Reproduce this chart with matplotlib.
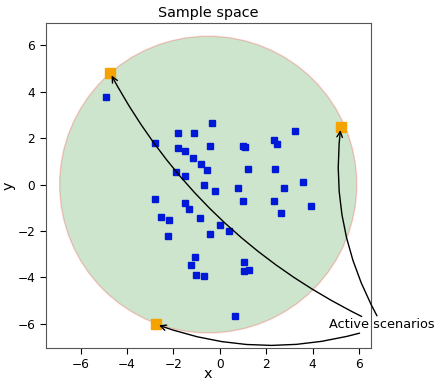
import numpy as np
import matplotlib
matplotlib.use("Agg")
import matplotlib.pyplot as plt
import matplotlib.patches as mpatches

xs = [-4.89, -0.33, -1.80, -1.11, -2.81, -0.41, -1.80, -1.52, -1.17, -0.81,
      -0.57, -1.88, -1.51, -0.70, -0.22, 0.78, -2.81, -1.48, 3.24, 2.32,
      2.46, 0.98, 1.09, 1.21, 2.39, 2.76, 3.60, 0.99, 2.35, 3.93,
      2.62, -0.01, -0.42, 0.39, 1.05, 1.05, 1.27, -0.66, 0.66, -1.31,
      -2.55, -2.19, -0.86, -2.25, -1.06, -1.25, -1.01]
ys = [3.79, 2.66, 2.21, 2.23, 1.80, 1.67, 1.58, 1.45, 1.13, 0.89,
      0.63, 0.56, 0.37, -0.03, -0.29, -0.15, -0.63, -0.78, 2.32, 1.93,
      1.76, 1.65, 1.61, 0.69, 0.69, -0.14, 0.10, -0.71, -0.71, -0.94,
      -1.23, -1.73, -2.13, -2.02, -3.36, -3.71, -3.67, -3.94, -5.69, -1.04,
      -1.40, -1.53, -1.45, -2.23, -3.12, -3.45, -3.91]

# active scenarios on the boundary
active_x = [-4.72, 5.21, -2.73]
active_y = [4.81, 2.47, -6.03]

# where each arrow leaves the label
arrow_start_x = [6.11, 6.77, 6.02]
arrow_start_y = [-5.69, -5.66, -6.41]

center = (-0.5, 0.0)
radius = 6.4

fig = plt.figure(figsize=(4.39, 3.80), dpi=100)
ax = fig.add_axes([45.7 / 439, 32 / 380, 325 / 439, 325 / 380])

circ = mpatches.Circle(center, radius, facecolor="g", edgecolor="r", alpha=0.2, lw=1.0)
ax.add_patch(circ)

ax.plot(xs, ys, "s", color="#0019d6", ms=3.8, ls="none")
ax.plot(active_x, active_y, "s", color="#f5a300", ms=6.5, ls="none")

for sx, sy, tx, ty in zip(arrow_start_x, arrow_start_y, active_x, active_y):
    ax.annotate("", xy=(tx, ty), xytext=(sx, sy),
                arrowprops=dict(arrowstyle="->", color="black", lw=1.0,
                                connectionstyle="arc3,rad=-0.16",
                                shrinkA=0, shrinkB=2))
ax.text(7.0, -6.05, "Active scenarios", ha="center", va="center",
        fontsize=9.3, clip_on=False)

ax.set_xlim(-7.5, 6.5)
ax.set_ylim(-7.05, 6.97)
ax.set_xticks([-6, -4, -2, 0, 2, 4, 6])
ax.set_yticks([-6, -4, -2, 0, 2, 4, 6])
ax.tick_params(labelsize=8.7, length=4)
for sp in ax.spines.values():
    sp.set_color("#555555")
ax.set_xlabel("x", fontsize=10.4, labelpad=-3)
ax.set_ylabel("y", fontsize=10.4, labelpad=1)
ax.set_title("Sample space", fontsize=10.4, pad=4)

fig.savefig("out.png", dpi=100)
